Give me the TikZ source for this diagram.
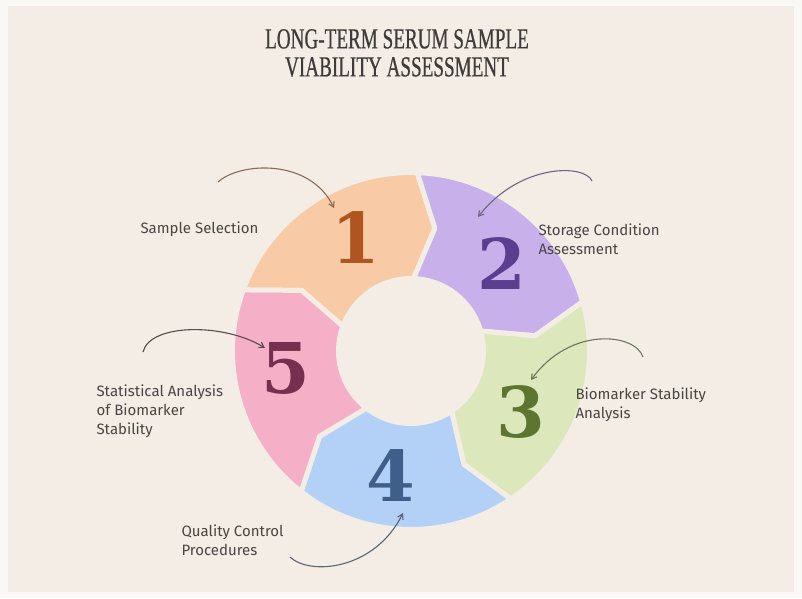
\documentclass[tikz,border=0pt]{standalone}
\usepackage{fontspec}
\setmainfont{Fira Sans}
\newfontfamily\titlefont[FakeStretch=0.66, FakeBold=0.6]{Liberation Serif}
\newfontfamily\numfont{DejaVu Serif}
\usetikzlibrary{calc, positioning}
\usetikzlibrary{arrows.meta}

\definecolor{paper}{HTML}{F3EDE6}
\definecolor{rim}{HTML}{FAF8F5}
\definecolor{inkgray}{HTML}{4A4545}
\definecolor{segA}{HTML}{F8CAA5}
\definecolor{segB}{HTML}{C8B1EA}
\definecolor{segC}{HTML}{DCE8BC}
\definecolor{segD}{HTML}{B3D0F7}
\definecolor{segE}{HTML}{F5B0C7}
\definecolor{numA}{HTML}{B0551F}
\definecolor{numB}{HTML}{5B3F8E}
\definecolor{numC}{HTML}{5E7431}
\definecolor{numD}{HTML}{3F5E89}
\definecolor{numE}{HTML}{76304D}
\definecolor{arrA}{HTML}{8A6A55}
\definecolor{arrB}{HTML}{6E6580}
\definecolor{arrC}{HTML}{6B7560}
\definecolor{arrD}{HTML}{5A6472}
\definecolor{arrE}{HTML}{5A4A50}

\begin{document}
\begin{tikzpicture}[x=1pt,y=1pt,
  seg/.style={line width=5pt, draw=paper, line join=round},
  pointer/.style={line width=1.1pt, -{Straight Barb[length=5pt,width=6pt]}},
  lab/.style={align=left, anchor=west, text=inkgray, font=\fontsize{15}{19}\selectfont},
  num/.style={font=\numfont\bfseries\fontsize{70}{70}\selectfont}]
\def\Ro{178.5}
\def\Ri{72.5}
\def\Rm{125}
\coordinate (C) at (411,247);
\fill[rim] (0,0) rectangle (802,598);
\fill[paper] (8,6) rectangle (794,592);
\useasboundingbox (0,0) rectangle (802,598);

\node[text=inkgray!85!black, font=\titlefont\fontsize{29}{28}\selectfont, align=center] (title) at (397,545)
  {LONG-TERM SERUM SAMPLE\\VIABILITY ASSESSMENT};

% ring of chevrons, clockwise from the upper left
\foreach \a/\col in {160/segA,88/segB,16/segC,-56/segD,-128/segE}{
  \pgfmathsetmacro{\b}{\a-72}
  \filldraw[seg, fill=\col] ($(C)+(\a:\Ro)$) arc[start angle=\a, end angle=\b, radius=\Ro]
    -- ($(C)+(\b-9:\Rm)$) -- ($(C)+(\b:\Ri)$) arc[start angle=\b, end angle=\a, radius=\Ri]
    -- ($(C)+(\a-9:\Rm)$) -- cycle;
}
\foreach \n/\ang/\col in {1/116/numA,2/44/numB,3/-29/numC,4/-99/numD,5/188/numE}
  \node[num, text=\col] (n\n) at ($(C)+(\ang:126)$) {\n};

% step labels
\node[lab] (sel) at (137,369) {Sample Selection};
\node[lab] (stor) at (535,359) {Storage Condition\\Assessment};
\node[lab] (bio) at (572,193) {Biomarker Stability\\Analysis};
\node[lab] (qc) at (178,58) {Quality Control\\Procedures};
\node[lab] (stat) at (93,187) {Statistical Analysis\\of Biomarker\\Stability};

% curved pointers
\coordinate (t1) at (218,416); \coordinate (h1) at (334,390);
\coordinate (t2) at (592,417); \coordinate (h2) at (478,381);
\coordinate (t3) at (643,241); \coordinate (h3) at (531,218);
\coordinate (t4) at (290,41);  \coordinate (h4) at (403,85);
\coordinate (t5) at (143,246); \coordinate (h5) at (265,250);
\draw[pointer, arrA] (t1) .. controls (240,436) and (310,440) .. (h1);
\draw[pointer, arrB] (t2) .. controls (585,434) and (520,435) .. (h2);
\draw[pointer, arrC] (t3) .. controls (635,265) and (570,272) .. (h3);
\draw[pointer, arrD] (t4) .. controls (310,22) and (375,28) .. (h4);
\draw[pointer, arrE] (t5) .. controls (150,275) and (225,275) .. (h5);
\end{tikzpicture}
\end{document}
